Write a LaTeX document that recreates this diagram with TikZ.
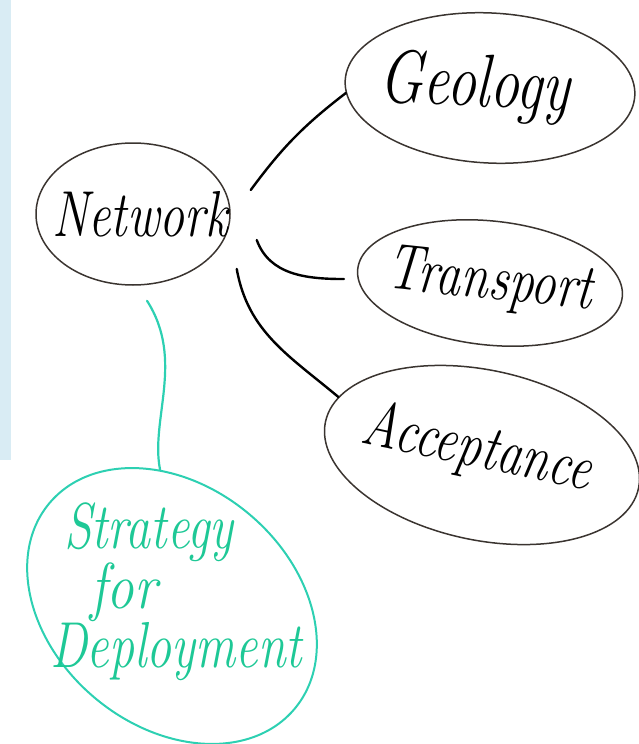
\documentclass[tikz,border=0pt]{standalone}
\usepackage{fontspec}
\usetikzlibrary{shapes.geometric}
\definecolor{board}{RGB}{217,236,244}
\definecolor{marker}{RGB}{58,52,48}
\definecolor{tealmarker}{RGB}{45,208,178}
\definecolor{tealink}{RGB}{30,200,150}
% tall, narrow marker writing that does not widen the bubble
\newcommand\scrawl[1]{\makebox[0pt]{\scalebox{1}[1.3]{#1}}}
\begin{document}
\begin{tikzpicture}
	[x=1pt,y=1pt,
	bubble/.style={ellipse,draw=marker,line width=1.5pt,inner sep=0pt},
	hand/.style={font=\fontsize{50}{58}\selectfont\itshape},
	link/.style={line width=2.4pt,line cap=round}]
	\useasboundingbox (0,0) rectangle (639,-744);
	\fill[board] (0,0) rectangle (11,-460);
	% the topics
	\node[bubble,hand,minimum width=194pt,minimum height=142pt,name=net] at (133,-214) {\scrawl{\hspace{14pt}Network}};
	\node[bubble,hand,font=\fontsize{58}{64}\selectfont\itshape,minimum width=290pt,minimum height=150pt,rotate=-3,name=geo] at (490,-88) {\scrawl{\hspace{-30pt}\raisebox{4pt}{Geology}}};
	\node[bubble,hand,minimum width=266pt,minimum height=124pt,rotate=-6,name=trn] at (490,-283) {\scrawl{Transport}};
	\node[bubble,hand,minimum width=320pt,minimum height=170pt,rotate=-12,name=acc] at (482,-455) {\scrawl{\hspace{-12pt}\raisebox{16pt}{Acceptance}}};
	\node[bubble,draw=tealmarker,line width=2pt,minimum width=320pt,minimum height=240pt,rotate=-40,name=ring] at (172,-606) {};
	\node[hand,text=tealink,align=left,name=str] at (176,-592) {\hspace*{14pt}\scalebox{1}[1.3]{Strategy}\\\hspace*{40pt}\scalebox{1.1}[1.3]{for}\\\scalebox{1}[1.3]{Deployment}};
	% the links
	\draw[link] ([shift={(20,24)}]net.east) to[bend left=8] (geo.185);
	\draw[link] ([shift={(26,-26)}]net.east) to[out=-70,in=180] ([shift={(-13,-10)}]trn.west);
	\draw[link] ([shift={(6,-55)}]net.east) to[out=-80,in=140] (acc.170);
	\draw[link,tealmarker,line width=2.2pt] ([shift={(14,-15)}]net.south) .. controls (185,-360) and (150,-420) .. (ring.135);
\end{tikzpicture}
\end{document}
